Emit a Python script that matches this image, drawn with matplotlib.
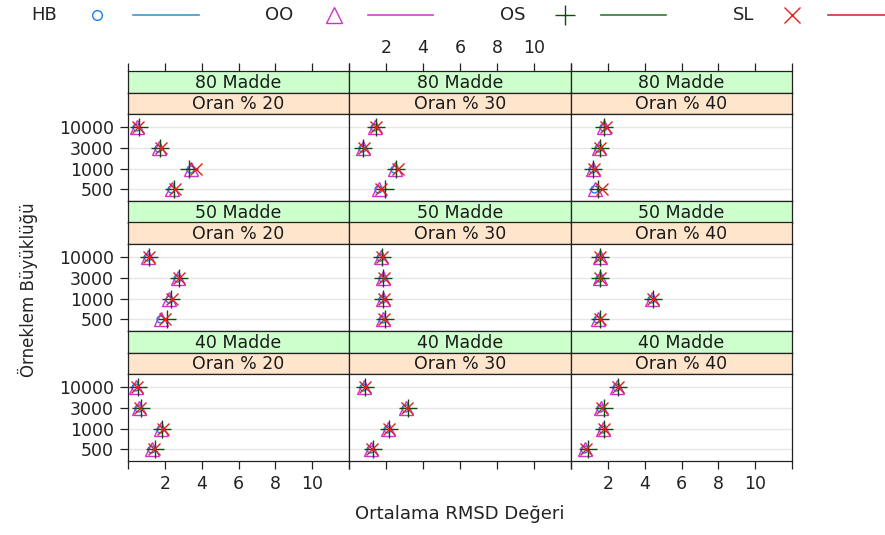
import matplotlib
matplotlib.use("Agg")
import matplotlib.pyplot as plt
from matplotlib.lines import Line2D

plt.rcParams['font.family'] = ['DejaVu Sans']

# categories and panel labels
sizes = ['500', '1000', '3000', '10000']
madde = ['80 Madde', '50 Madde', '40 Madde']
oran = ['Oran % 20', 'Oran % 30', 'Oran % 40']
series = ['HB', 'OO', 'OS', 'SL']
xticks = [0, 2, 4, 6, 8, 10, 12]
xtick_labels = ['', '2', '4', '6', '8', '10', '']

# mean RMSD per panel (row: madde, col: oran), values for 500, 1000, 3000, 10000
hb = [[2.35, 3.35, 1.65, 0.45], [1.55, 2.45, 0.70, 1.35], [1.25, 1.15, 1.45, 1.75],
      [1.75, 2.20, 2.65, 1.05], [1.80, 1.80, 1.80, 1.70], [1.40, 4.35, 1.50, 1.50],
      [1.25, 1.75, 0.55, 0.40], [1.15, 2.05, 3.05, 0.75], [0.70, 1.70, 1.60, 2.45]]
oo = [[2.40, 3.40, 1.70, 0.50], [1.60, 2.50, 0.75, 1.40], [1.30, 1.20, 1.50, 1.80],
      [1.80, 2.25, 2.70, 1.10], [1.85, 1.85, 1.85, 1.75], [1.45, 4.40, 1.55, 1.55],
      [1.30, 1.80, 0.60, 0.45], [1.20, 2.10, 3.10, 0.80], [0.75, 1.75, 1.65, 2.50]]
os_ = [[2.50, 3.30, 1.75, 0.60], [1.95, 2.55, 0.75, 1.45], [1.45, 1.20, 1.55, 1.80],
       [2.10, 2.35, 2.75, 1.15], [1.95, 1.85, 1.85, 1.80], [1.55, 4.45, 1.60, 1.60],
       [1.45, 1.85, 0.70, 0.55], [1.30, 2.15, 3.20, 0.85], [0.90, 1.80, 1.80, 2.55]]
sl = [[2.55, 3.70, 1.80, 0.55], [1.75, 2.65, 0.80, 1.45], [1.70, 1.25, 1.55, 1.90],
      [2.00, 2.40, 2.75, 1.15], [1.90, 1.90, 1.90, 1.80], [1.60, 4.45, 1.60, 1.60],
      [1.40, 1.90, 0.65, 0.50], [1.25, 2.15, 3.15, 0.85], [0.80, 1.80, 1.70, 2.55]]

values = [hb, oo, os_, sl]
markers = ['o', '^', '+', 'x']
msizes = [5, 10, 13, 9]
colors = ['#1a80e6', '#d030d0', '#0b4f0b', '#e02020']
line_colors = ['#3a9ad0', '#cc44cc', '#2e7d32', '#d0303a']

W, H = 885, 535
fig = plt.figure(figsize=(W / 100, H / 100), dpi=100)


def box(x0, y0, x1, y1):
    return [x0 / W, 1 - y1 / H, (x1 - x0) / W, (y1 - y0) / H]


col_x = [(128, 349), (349, 571), (571, 792)]
row_top = [71, 201, 331]
strip_h = 21.5
panel_h = 87
ypos = list(range(1, len(sizes) + 1))
tick_style = dict(direction='out', length=6, width=0.9, color='#222222',
                  labelsize=12.5, labelcolor='#222222', pad=4)

for r in range(3):
    for c in range(3):
        k = r * 3 + c
        x0, x1 = col_x[c]
        t = row_top[r]
        # strips
        for j, (lab, fc) in enumerate([(madde[r], '#ccffcc'), (oran[c], '#ffe5cc')]):
            sa = fig.add_axes(box(x0, t + j * strip_h, x1, t + (j + 1) * strip_h))
            sa.set_facecolor(fc)
            sa.set_xlim(0, 12)
            sa.set_yticks([])
            for sp in sa.spines.values():
                sp.set_linewidth(0.9)
                sp.set_color('#222222')
            sa.text(0.5, 0.45, lab, ha='center', va='center', fontsize=12.5,
                    color='#1a1a1a', transform=sa.transAxes)
            if r == 0 and j == 0:
                # top axis ticks sit above the strips
                sa.set_xticks(xticks)
                sa.set_xticklabels(xtick_labels)
                sa.tick_params(**tick_style, top=True, labeltop=(c == 1),
                               bottom=False, labelbottom=False)
            else:
                sa.set_xticks([])
        ax = fig.add_axes(box(x0, t + 2 * strip_h, x1, t + 2 * strip_h + panel_h))
        for y in ypos:
            ax.axhline(y, color='#e6e6e6', lw=1, zorder=0)
        for s in range(4):
            ax.plot(values[s][k], ypos, linestyle='none', marker=markers[s],
                    ms=msizes[s], mfc='none', mec=colors[s], mew=1.0, zorder=2 + s)
        ax.set_xlim(0, 12)
        ax.set_ylim(0.45, 4.6)
        for sp in ax.spines.values():
            sp.set_linewidth(0.9)
            sp.set_color('#222222')
        ax.set_xticks(xticks)
        ax.set_xticklabels(xtick_labels)
        ax.set_yticks(ypos)
        ax.set_yticklabels(sizes)
        ax.tick_params(**tick_style, top=False, labeltop=False,
                       bottom=(r == 2), labelbottom=(r == 2 and c != 1),
                       left=(c == 0), labelleft=(c == 0), right=False)

fig.text(28 / W, 1 - 290 / H, 'Örneklem Büyüklüğü', rotation=90, ha='center',
         va='center', fontsize=12, color='#222222')
fig.text(460 / W, 1 - 514 / H, 'Ortalama RMSD Değeri', ha='center', va='center',
         fontsize=13, color='#222222')

# legend across the top
leg_text_x = [44, 279, 513, 744]
leg_mark_x = [97, 334, 565, 792]
leg_line_x = [(133, 199), (368, 433), (601, 666), (828, 885)]
ly = 1 - 15 / H
for s in range(4):
    fig.text(leg_text_x[s] / W, ly, series[s], ha='center', va='center',
             fontsize=13, color='#222222')
    fig.add_artist(Line2D([leg_mark_x[s] / W], [ly], transform=fig.transFigure,
                          marker=markers[s], ms=msizes[s] + 2, mfc='none',
                          mec=colors[s], mew=1.0, linestyle='none'))
    fig.add_artist(Line2D([leg_line_x[s][0] / W, leg_line_x[s][1] / W], [ly, ly],
                          transform=fig.transFigure, color=line_colors[s], lw=1.2))

fig.savefig('out.png', dpi=100)
